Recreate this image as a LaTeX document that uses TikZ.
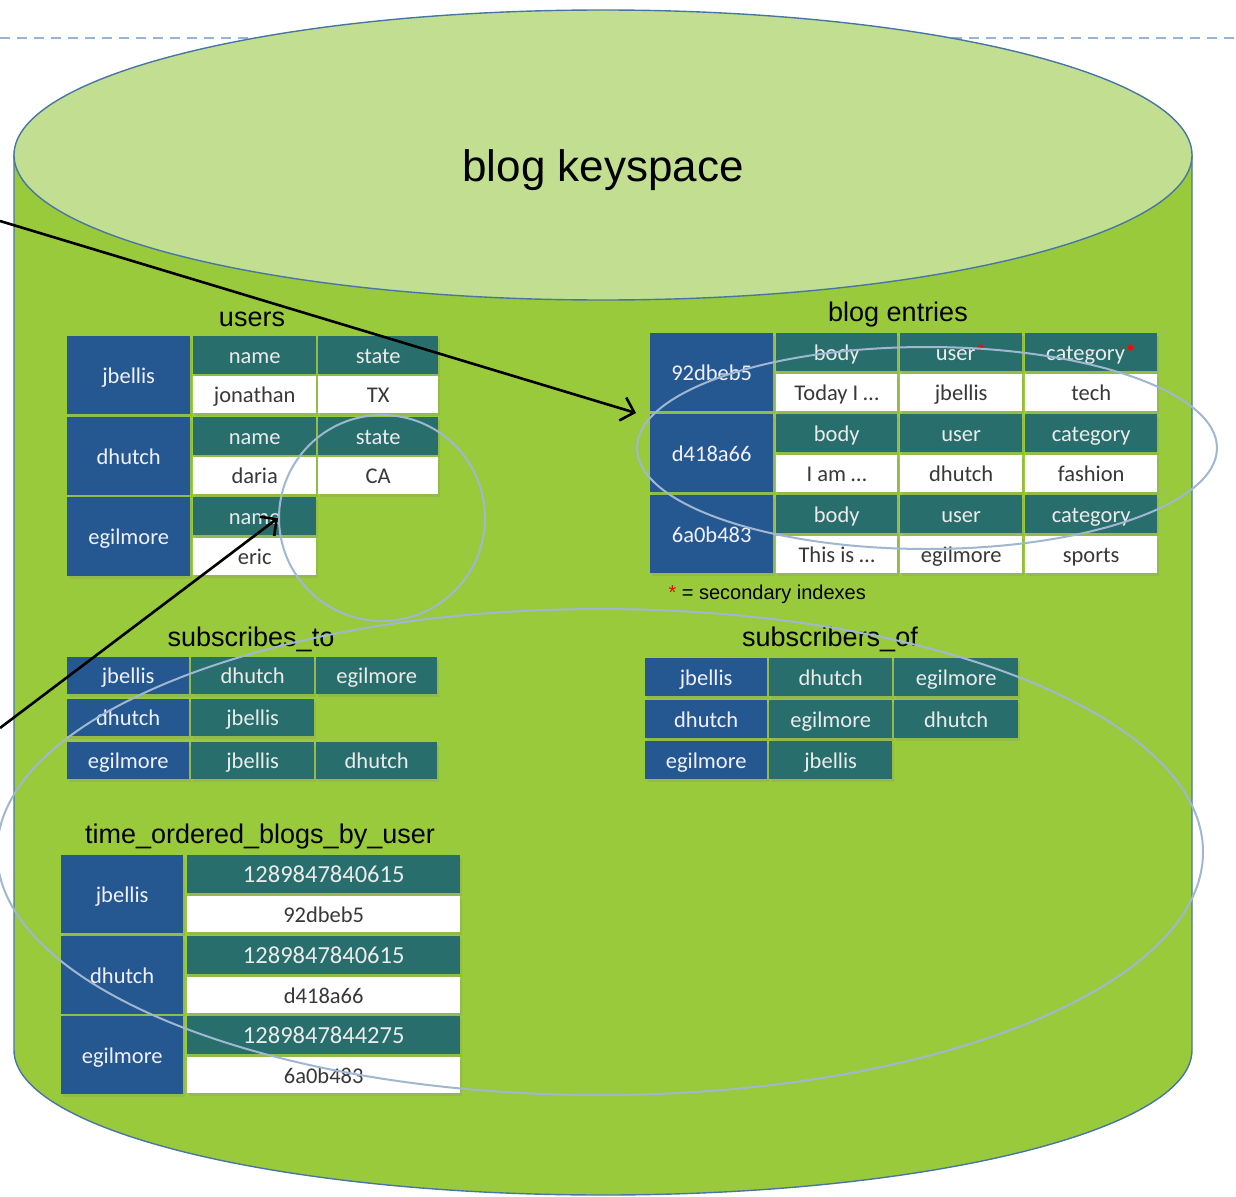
\documentclass[tikz,border=0pt]{standalone}
\usepackage{fontspec}
\setmainfont{Liberation Sans}
\newfontfamily\cellfont{Carlito}
\usepackage{xcolor}
\usetikzlibrary{arrows.meta}
\usetikzlibrary{calc}
\usetikzlibrary{shapes.geometric}
\usetikzlibrary{shadows}

\definecolor{sidegreen}{RGB}{153,202,60}
\definecolor{topgreen}{RGB}{194,222,145}
\definecolor{rimblue}{RGB}{72,118,164}
\definecolor{keyblue}{RGB}{37,88,145}
\definecolor{headteal}{RGB}{40,110,108}
\definecolor{ringblue}{RGB}{160,183,210}
\definecolor{dashblue}{RGB}{150,180,212}
\newcommand{\idx}{\textcolor{red}{*}}

\tikzset{
    cell/.style={inner sep=0pt, anchor=north west, font=\cellfont\fontsize{22.5}{26}\selectfont,
        text height=18pt, text depth=2pt,
        drop shadow={shadow xshift=2pt, shadow yshift=-3pt, opacity=.2}},
    keycell/.style={cell, fill=keyblue, text=white!94!blue},
    headcell/.style={cell, fill=headteal, text=white!92!black},
    valcell/.style={cell, fill=white, text=black!78},
    tabletitle/.style={font=\fontsize{27}{30}\selectfont},
    ring/.style={draw=ringblue, line width=2pt, inner sep=0pt},
    pointer/.style={line width=2.6pt, -{Straight Barb[length=12pt,width=24pt,line width=2.6pt]}}
}

\begin{document}
\begin{tikzpicture}[x=1pt, y=-1pt]
    \useasboundingbox (0,0) rectangle (1236,1196);
    \draw[dashblue, line width=1.5pt, dash pattern=on 10pt off 7pt] (0,38) -- (1236,38);

    \draw[rimblue, line width=1.4pt, fill=sidegreen] (14,155) -- (14,1050)
        arc[start angle=180, end angle=360, x radius=589pt, y radius=145pt] -- (1192,155) -- cycle;
    \draw[rimblue, line width=1.4pt, fill=topgreen] (603,155) ellipse [x radius=589pt, y radius=145pt];
    \node[font=\fontsize{44}{48}\selectfont] (keyspace) at (603,170) {blog keyspace};

    \node[tabletitle] (users) at (252,319) {users};
    \foreach \key/\top/\nm/\st in {jbellis/336/jonathan/TX, dhutch/417/daria/CA}
    {
        \node[keycell, minimum width=123pt, minimum height=78pt] (u-\key) at (67,\top) {\key};
        \node[headcell, minimum width=123pt, minimum height=38pt] (u-\key-n) at (193,\top) {name};
        \node[headcell, minimum width=120pt, minimum height=38pt] (u-\key-s) at (318,\top) {state};
        \node[valcell, minimum width=123pt, minimum height=37pt] (u-\key-nv) at (193,\top+40) {\nm};
        \node[valcell, minimum width=120pt, minimum height=37pt] (u-\key-sv) at (318,\top+40) {\st};
    }
    \node[keycell, minimum width=123pt, minimum height=79pt] (u-egilmore) at (67,497) {egilmore};
    \node[headcell, minimum width=123pt, minimum height=38pt] (u-egilmore-n) at (193,497) {name};
    \node[valcell, minimum width=123pt, minimum height=37pt] (u-egilmore-nv) at (193,538) {eric};

    \node[tabletitle] (entries-title) at (898,315) {blog entries};
    \foreach \key/\top/\bd/\us/\ct/\uh/\ch in {92dbeb5/333/Today I …/jbellis/tech/user\idx/category\idx,
        d418a66/414/I am …/dhutch/fashion/user/category, 6a0b483/495/This is …/egilmore/sports/user/category}
    {
        \node[keycell, minimum width=123pt, minimum height=78pt] (e-\key) at (650,\top) {\key};
        \node[headcell, minimum width=121pt, minimum height=38pt] (e-\key-b) at (776,\top) {body};
        \node[headcell, minimum width=122pt, minimum height=38pt] (e-\key-u) at (900,\top) {\uh};
        \node[headcell, minimum width=132pt, minimum height=38pt] (e-\key-c) at (1025,\top) {\ch};
        \node[valcell, minimum width=121pt, minimum height=37pt] (e-\key-bv) at (776,\top+41) {\bd};
        \node[valcell, minimum width=122pt, minimum height=37pt] (e-\key-uv) at (900,\top+41) {\us};
        \node[valcell, minimum width=132pt, minimum height=37pt] (e-\key-cv) at (1025,\top+41) {\ct};
    }
    \node[anchor=west, font=\fontsize{20}{22}\selectfont] (note) at (665,594) {\idx{} = secondary indexes};

    \node[tabletitle] (subto) at (251,639) {subscribes\_to};
    \foreach \key/\top in {jbellis/657, dhutch/699, egilmore/742}
        \node[keycell, minimum width=122pt, minimum height=37pt] (st-\key) at (67,\top) {\key};
    \foreach \x/\w/\top/\name [count=\i] in {191/123/657/dhutch, 316/121/657/egilmore, 191/123/699/jbellis,
        191/123/742/jbellis, 316/121/742/dhutch}
        \node[headcell, minimum width=\w pt, minimum height=37pt] (st-\i) at (\x,\top) {\name};

    \node[tabletitle] (subof) at (830,639) {subscribers\_of};
    \foreach \key/\top in {jbellis/658, dhutch/700, egilmore/741}
        \node[keycell, minimum width=122pt, minimum height=38pt] (so-\key) at (645,\top) {\key};
    \foreach \x/\w/\top/\name [count=\i] in {769/123/658/dhutch, 894/124/658/egilmore, 769/123/700/egilmore,
        894/124/700/dhutch, 769/123/741/jbellis}
        \node[headcell, minimum width=\w pt, minimum height=38pt] (so-\i) at (\x,\top) {\name};

    \node[tabletitle] (tob) at (260,837) {time\_ordered\_blogs\_by\_user};
    \foreach \key/\top/\ts/\id in {jbellis/855/1289847840615/92dbeb5, dhutch/936/1289847840615/d418a66,
        egilmore/1016/1289847844275/6a0b483}
    {
        \node[keycell, minimum width=122pt, minimum height=78pt] (t-\key) at (61,\top) {\key};
        \node[headcell, minimum width=273pt, minimum height=38pt, font=\cellfont\fontsize{24.5}{26}\selectfont]
            (t-\key-ts) at (187,\top) {\ts};
        \node[valcell, minimum width=273pt, minimum height=36pt] (t-\key-id) at (187,\top+41) {\id};
    }

    \node[ring, circle, minimum size=206pt] (circ) at (382,518) {};
    \node[ring, ellipse, minimum width=580pt, minimum height=202pt] (entries) at (927,448) {};
    \node[ring, ellipse, minimum width=1206pt, minimum height=486pt] (bigring) at (600,852) {};

    \coordinate (from1) at (0,221);
    \coordinate (from2) at (0,728);
    \draw[pointer] (from1) -- ($(entries.west)+(0,-35)$);
    \draw[pointer] (from2) -- (circ.west);
\end{tikzpicture}
\end{document}
